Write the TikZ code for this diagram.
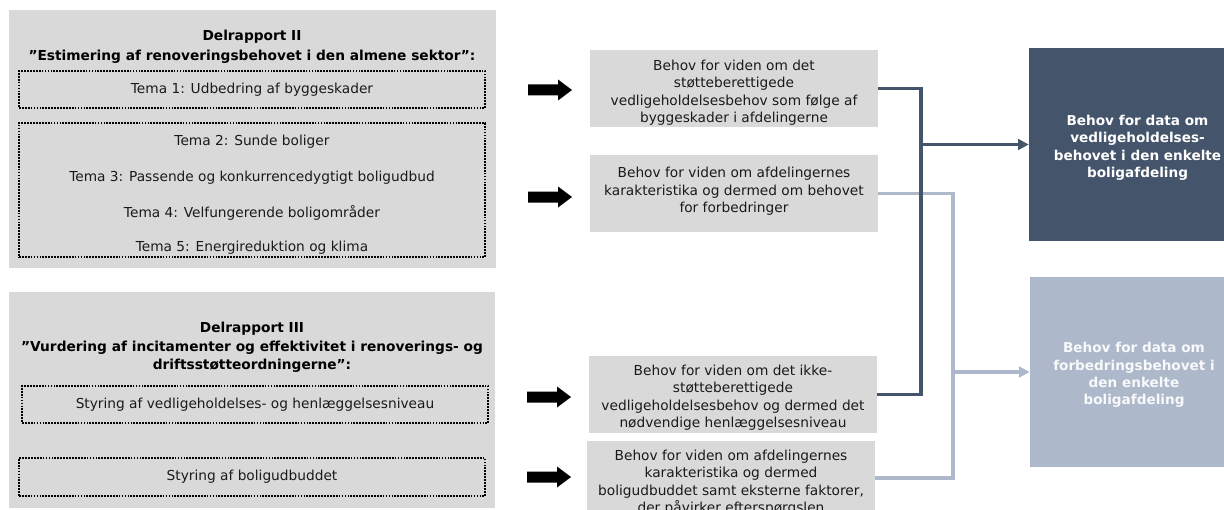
\documentclass[tikz,border=0pt]{standalone}
\usepackage{fontspec}
\setmainfont{DejaVu Sans}
\usetikzlibrary{fit,arrows.meta}
\definecolor{boxgrey}{HTML}{D9D9D9}
\definecolor{darkblue}{HTML}{44546A}
\definecolor{lightblue}{HTML}{ADB9CA}
\definecolor{txtcol}{HTML}{1A1A1A}
\tikzset{
  greybox/.style={fill=boxgrey, draw=none, inner sep=0pt},
  dotbox/.style={draw=black, line width=1.3pt, dash pattern=on 1.3pt off 0.9pt, inner sep=0pt},
  txt/.style={font=\fontsize{10.3}{13.1}\selectfont, text=txtcol, align=center, inner sep=0pt},
  ttl/.style={font=\fontsize{10.3}{15}\selectfont\bfseries, text=black, align=center, inner sep=0pt},
  rtxt/.style={font=\fontsize{10.2}{13.1}\selectfont\bfseries, align=center, inner sep=0pt},
  darkfill/.style={fill=darkblue, draw=none, inner sep=0pt},
  lightfill/.style={fill=lightblue, draw=none, inner sep=0pt},
  darkline/.style={draw=darkblue, line width=2.5pt},
  lightline/.style={draw=lightblue, line width=2.5pt},
  tip/.style={-{Triangle[length=8pt,width=8pt]}},
  bigarrow/.style={fill=black, draw=none}
}
\newcommand{\blkarrow}[2]{%
  \fill[bigarrow] (#1,#2-5.5) -- ++(30,0) -- ++(0,-5) -- ++(14,10.5) -- ++(-14,10.5) -- ++(0,-5) -- ++(-30,0) -- cycle;}
\begin{document}
\begin{tikzpicture}[x=0.75pt,y=-0.75pt]
\useasboundingbox (0,0) rectangle (1224,510);
\begin{scope}
\clip (0,0) rectangle (1224,510);
% Left box 1
\node[greybox, fit={(9,10) (496,268)}] (d2) {};
\node[ttl] (d2t) at (252,46.5) {Delrapport II\\”Estimering af renoveringsbehovet i den almene sektor”:};
\node[dotbox, fit={(19,71) (485,108)}] (t1box) {};
\node[txt] (t1) at (t1box.center) {Tema 1: Udbedring af byggeskader};
\node[dotbox, fit={(19,123) (485,257)}] (t2box) {};
\node[txt] (t2) at (252,142) {Tema 2: Sunde boliger};
\node[txt] (t3) at (252,178) {Tema 3: Passende og konkurrencedygtigt boligudbud};
\node[txt] (t4) at (252,213) {Tema 4: Velfungerende boligområder};
\node[txt] (t5) at (252,247.5) {Tema 5: Energireduktion og klima};
% Left box 2
\node[greybox, fit={(9,292) (495,508)}] (d3) {};
\node[ttl, font=\fontsize{10.3}{13.8}\selectfont\bfseries] (d3t) at (252,347.5) {Delrapport III\\”Vurdering af incitamenter og effektivitet i renoverings- og\\driftsstøtteordningerne”:};
\node[dotbox, fit={(22,386) (488,423)}] (s1box) {};
\node[txt] (s1) at (s1box.center) {Styring af vedligeholdelses- og henlæggelsesniveau};
\node[dotbox, fit={(19,458) (485,496)}] (s2box) {};
\node[txt] (s2) at (s2box.center) {Styring af boligudbuddet};
% black arrows
\blkarrow{528}{90}
\blkarrow{528}{197}
\blkarrow{527}{397}
\blkarrow{527}{477}
% middle boxes
\node[greybox, fit={(590,50) (878,127)}] (A) {};
\node[txt] (At) at ([yshift=-3pt]A.center) {Behov for viden om det\\støtteberettigede\\vedligeholdelsesbehov som følge af\\byggeskader i afdelingerne};
\node[greybox, fit={(590,155) (878,232)}] (B) {};
\node[txt] (Bt) at ([yshift=1.5pt]B.center) {Behov for viden om afdelingernes\\karakteristika og dermed om behovet\\for forbedringer};
\node[greybox, fit={(589,356) (877,433)}] (C) {};
\node[txt] (Ct) at ([yshift=-2.3pt]C.center) {Behov for viden om det ikke-\\støtteberettigede\\vedligeholdelsesbehov og dermed det\\nødvendige henlæggelsesniveau};
\node[greybox, fit={(587,441) (875,515)}] (D) {};
\node[txt] (Dt) at ([yshift=-3.5pt]D.center) {Behov for viden om afdelingernes\\karakteristika og dermed\\boligudbuddet samt eksterne faktorer,\\der påvirker efterspørgslen};
% right boxes
\node[darkfill, fit={(1029,48) (1246,241)}] (R1) {};
\node[rtxt, text=white] (R1t) at ([yshift=-2.3pt]R1.center) {Behov for data om\\vedligeholdelses-\\behovet i den enkelte\\boligafdeling};
\node[lightfill, fit={(1030,277) (1238,467)}] (R2) {};
\node[rtxt, text=white!92!lightblue] (R2t) at ([yshift=-2.3pt]R2.center) {Behov for data om\\forbedringsbehovet i\\den enkelte\\boligafdeling};
% connectors
\coordinate (cd) at (921,240);
\coordinate (cl) at (953,300);
\draw[lightline] (B.east) -| (cl) |- (D.east);
\draw[darkline] (A.east) -| (cd) |- (C.east);
\coordinate (jd) at (cd |- R1.west);
\coordinate (jl) at (cl |- R2.west);
\draw[darkline, tip] (jd) -- (R1.west);
\draw[lightline, tip] (jl) -- (R2.west);
\end{scope}
\end{tikzpicture}
\end{document}
